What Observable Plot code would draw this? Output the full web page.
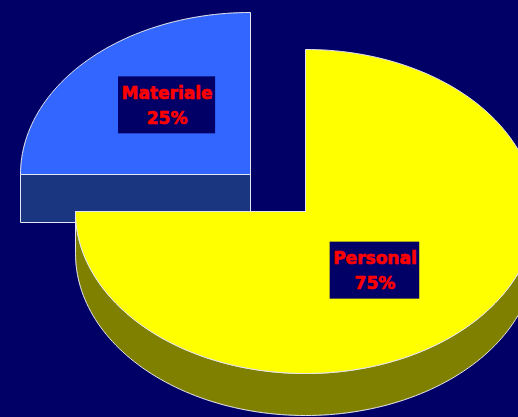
<!DOCTYPE html>
<html>
<head>
<meta charset="utf-8">
<script src="https://cdn.jsdelivr.net/npm/d3@7"></script>
<script src="https://cdn.jsdelivr.net/npm/@observablehq/plot@0.6"></script>
<style>
  html, body { margin: 0; padding: 0; background: #000066; overflow: hidden; }
  #chart svg { display: block; }
</style>
</head>
<body>
<div id="chart"></div>
<script>
// ---- data ----
const categories = ["Materiale", "Personal"];
const values = [25, 75];
const topColors = ["#3366FF", "#FFFF00"];
const sideColors = ["#1B3681", "#808000"];
const labelFill = "#FF0000";
const background = "#000066";

// ---- layout / style constants ----
const W = 518, H = 417;
const CX = 305, CY = 211, RX = 230, RY = 162;   // pie ellipse in pixels
const depths = [48 / RY, 42 / RY];               // extrusion in y-units
const explode = [[-55 / RX, 37 / RY], [0, 0]];   // slice offsets
const fontSize = 17;
const font = `bold ${fontSize}px "DejaVu Sans"`;

// ---- geometry in unit space (x: cos, y: sin) ----
const total = d3.sum(values);
let a = Math.PI / 2;
const slices = categories.map((c, i) => {
  const a0 = a;
  const a1 = a + (values[i] / total) * 2 * Math.PI;
  a = a1;
  return {category: c, value: values[i], i, a0, a1, ox: explode[i][0], oy: explode[i][1], depth: depths[i]};
});

function arc(s, lo, hi, dz) {
  const n = Math.max(2, Math.ceil((hi - lo) / (2 * Math.PI) * 240));
  const pts = [];
  for (let k = 0; k <= n; k++) {
    const t = lo + (hi - lo) * k / n;
    pts.push({x: s.ox + Math.cos(t), y: s.oy + Math.sin(t) - dz});
  }
  return pts;
}

const tops = [], walls = [], faces = [];
slices.forEach(s => {
  const c = {x: s.ox, y: s.oy};
  const depth = s.depth;
  // top face
  tops.push({i: s.i, pts: [c, ...arc(s, s.a0, s.a1, 0), c]});
  // outer (front-facing) wall
  for (let k = 0; k < 2; k++) {
    const lo = Math.max(s.a0, Math.PI + 2 * Math.PI * k);
    const hi = Math.min(s.a1, 2 * Math.PI + 2 * Math.PI * k);
    if (hi > lo) {
      const up = arc(s, lo, hi, 0);
      const dn = arc(s, lo, hi, depth).reverse();
      walls.push({i: s.i, pts: [...up, ...dn, up[0]]});
    }
  }
  // radial faces
  const radial = t => {
    const e = {x: s.ox + Math.cos(t), y: s.oy + Math.sin(t)};
    return [c, e, {x: e.x, y: e.y - depth}, {x: c.x, y: c.y - depth}, c];
  };
  if (Math.cos(s.a0) > 1e-9) faces.push({i: s.i, pts: radial(s.a0)});
  if (Math.cos(s.a1) < -1e-9) faces.push({i: s.i, pts: radial(s.a1)});
});

// back-to-front order: slices further back (larger y offset) first
const order = slices.slice().sort((p, q) => q.oy - p.oy).map(s => s.i);

const flat = (list, i, kind) =>
  list.filter(d => d.i === i).flatMap((d, j) => d.pts.map(p => ({...p, key: kind + i + "_" + j})));

const edge = "#E6E6EE";
const marks = [];
order.forEach(i => {
  marks.push(Plot.line(flat(faces, i, "f"), {x: "x", y: "y", z: "key", fill: sideColors[i], stroke: edge, strokeWidth: 1, curve: "linear"}));
  marks.push(Plot.line(flat(walls, i, "w"), {x: "x", y: "y", z: "key", fill: sideColors[i], stroke: edge, strokeWidth: 1, curve: "linear"}));
  marks.push(Plot.line(flat(tops, i, "t"), {x: "x", y: "y", z: "key", fill: topColors[i], stroke: edge, strokeWidth: 1, curve: "linear"}));
});

// labels
const ctx = document.createElement("canvas").getContext("2d");
ctx.font = font;
const labels = slices.map(s => {
  const mid = (s.a0 + s.a1) / 2;
  const lines = [s.category, `${Math.round(s.value / total * 100)}%`];
  const tw = d3.max(lines, l => ctx.measureText(l).width);
  const bw = (tw + 6) / RX, bh = 57 / RY;
  const x = s.ox + 0.47 * Math.cos(mid);
  const y = s.oy + 0.56 * Math.sin(mid);
  return {text: lines.join("\n"), x, y, x1: x - bw / 2, x2: x + bw / 2, y1: y - bh / 2, y2: y + bh / 2};
});
marks.push(Plot.rect(labels, {x1: "x1", x2: "x2", y1: "y1", y2: "y2", fill: background, dx: -7, dy: -5}));
marks.push(Plot.text(labels, {
  x: "x", y: "y", text: "text", dx: -7, dy: -7,
  fill: labelFill, stroke: labelFill, strokeWidth: 0.6,
  fontSize, fontWeight: "bold", fontFamily: "DejaVu Sans",
  lineHeight: 25 / fontSize, textAnchor: "middle"
}));

const chart = Plot.plot({
  width: W, height: H, margin: 0,
  x: {domain: [-CX / RX, (W - CX) / RX], axis: null},
  y: {domain: [(CY - H) / RY, CY / RY], axis: null},
  style: {background, overflow: "hidden"},
  marks
});
document.getElementById("chart").appendChild(chart);
</script>
</body>
</html>
